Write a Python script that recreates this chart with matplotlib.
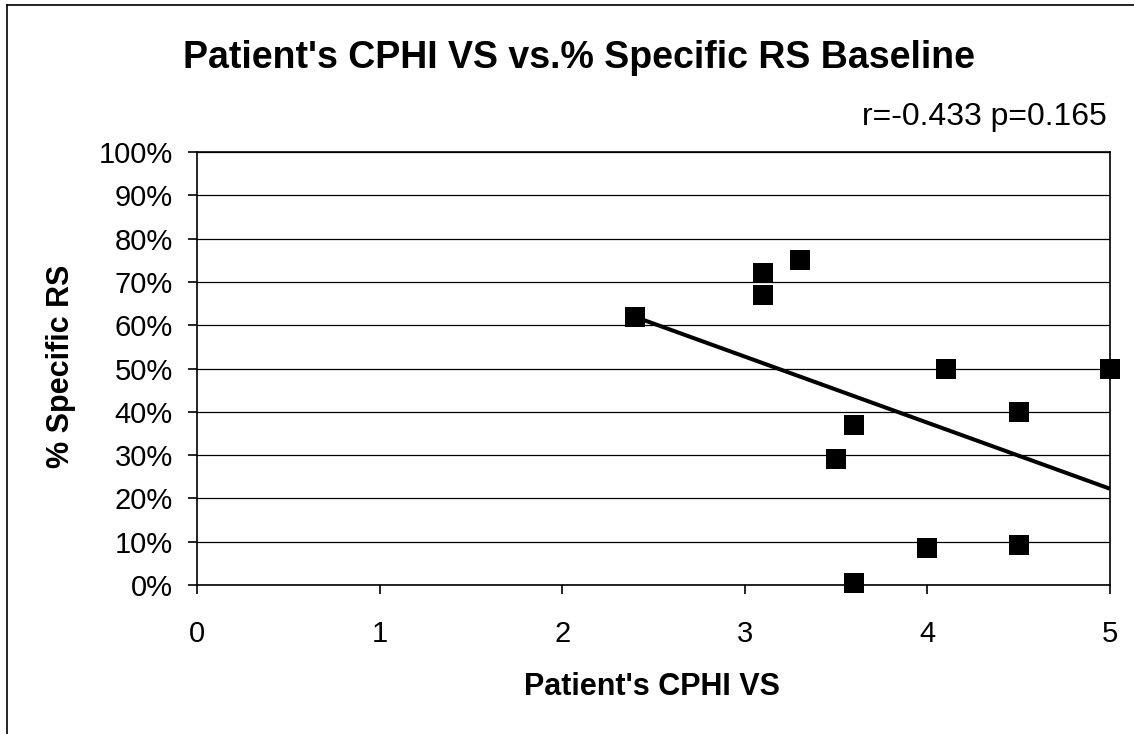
import matplotlib
matplotlib.use("Agg")
import matplotlib.pyplot as plt
import numpy as np
from matplotlib.ticker import FuncFormatter

plt.rcParams['font.family'] = ['Liberation Sans', 'DejaVu Sans']

# Data
cphi_vs = [2.4, 3.1, 3.1, 3.3, 3.6, 3.5, 3.6, 4.1, 5.0, 4.5, 4.0, 4.5]
pct_specific_rs = [62, 72, 67, 75, 37, 29, 0.5, 50, 50, 40, 8.5, 9.2]

title = "Patient's CPHI VS vs.% Specific RS Baseline"
stats_text = "r=-0.433 p=0.165"
xlabel = "Patient's CPHI VS"
ylabel = "% Specific RS"
x_ticks = [0, 1, 2, 3, 4, 5]
y_ticks = [0, 10, 20, 30, 40, 50, 60, 70, 80, 90, 100]

W, H = 1134, 734
fig = plt.figure(figsize=(W / 100, H / 100), dpi=100)
ax = fig.add_axes([197 / W, 1 - 585 / H, 913 / W, 433 / H])

x = np.array(cphi_vs)
y = np.array(pct_specific_rs)
slope, intercept = np.polyfit(x, y, 1)
xl = np.array([x.min(), x.max()])
ax.plot(xl, slope * xl + intercept, color='black', lw=2.9, zorder=3, solid_capstyle='butt')
ax.plot(x, y, linestyle='none', marker='s', markersize=15, markeredgewidth=0,
        color='black', zorder=4, clip_on=False)

ax.set_xlim(0, 5)
ax.set_ylim(0, 100)
ax.set_xticks(x_ticks)
ax.set_yticks(y_ticks)
ax.yaxis.set_major_formatter(FuncFormatter(lambda v, p: f"{int(v)}%"))
ax.grid(axis='y', color='black', lw=0.9)
ax.set_axisbelow(True)
for s in ax.spines.values():
    s.set_color('black')
    s.set_linewidth(1.2)
ax.tick_params(axis='both', direction='out', length=6.5, width=1.2, labelsize=21, colors='black')
ax.tick_params(axis='x', pad=19)
ax.tick_params(axis='y', pad=11)

fig.text(579 / W, 1 - 68 / H, title, ha='center', va='baseline', fontsize=27, fontweight='bold')
fig.text(1107 / W, 1 - 125 / H, stats_text, ha='right', va='baseline', fontsize=23)
fig.text(652 / W, 1 - 695 / H, xlabel, ha='center', va='baseline', fontsize=22, fontweight='bold')
fig.text(61 / W, 1 - 366 / H, ylabel, ha='center', va='center', rotation=90,
         fontsize=22, fontweight='bold')

# outer frame (left and top edges visible)
fig.add_artist(plt.Line2D([7 / W, 7 / W], [0, 1 - 5 / H], color='black', lw=1.2, transform=fig.transFigure))
fig.add_artist(plt.Line2D([7 / W, 1], [1 - 5 / H, 1 - 5 / H], color='black', lw=1.2, transform=fig.transFigure))

fig.savefig("out.png", dpi=100)
